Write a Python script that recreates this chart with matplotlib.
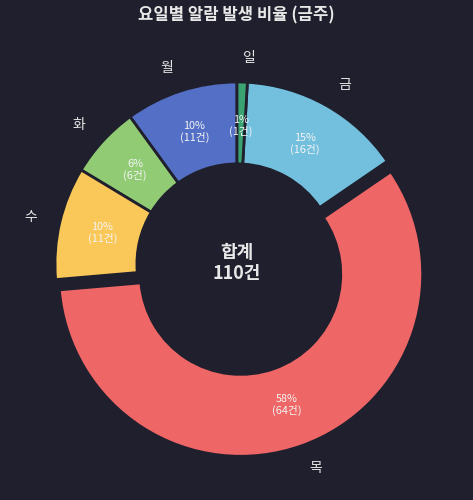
import matplotlib
matplotlib.use("Agg")
import matplotlib.pyplot as plt

plt.rcParams['font.family'] = ['Noto Sans CJK KR', 'DejaVu Sans']

# data (counter-clockwise from top)
days = ['월', '화', '수', '목', '금', '일']
counts = [11, 7, 11, 64, 16, 1]
total = sum(counts)
colors = ['#5470c6', '#91cc75', '#fac858', '#ee6666', '#73c0de', '#3ba272']
explode = [0, 0, 0, 0.06, 0, 0]

bg = '#1f1f2d'
fig = plt.figure(figsize=(4.73, 5.0), dpi=100, facecolor=bg)
ax = fig.add_axes([0, 0, 1, 1])
ax.set_facecolor(bg)

def fmt(p):
    return f'{p:.0f}%\n({int(p * total / 100)}건)'

wedges, texts, autotexts = ax.pie(
    counts, labels=days, colors=colors, explode=explode,
    startangle=90, counterclock=True,
    labeldistance=1.13, pctdistance=0.76,
    autopct=fmt,
    wedgeprops=dict(width=0.45, edgecolor=bg, linewidth=2),
    textprops=dict(color='#e6e6e6', fontsize=10),
)
for t in autotexts:
    t.set_fontsize(7.8)
    t.set_color('#f4f4f4')
    t.set_linespacing(1.1)

ax.text(0, 0.005, f'합계\n{total}건', ha='center', va='center',
        fontsize=13, fontweight='bold', color='#e8e8e8', linespacing=1.15)

# centre of ring at (237, 264) px from top-left, outer radius 182 px
ax.set_xlim(-237 / 182, (473 - 237) / 182)
ax.set_ylim(-236 / 182, (500 - 236) / 182)
ax.set_aspect('auto')
ax.axis('off')

fig.text(0.5, 1 - 15 / 500, '요일별 알람 발생 비율 (금주)', ha='center', va='center',
         fontsize=12, fontweight='bold', color='#e8e8e8')

fig.savefig('out.png', dpi=100, facecolor=bg)
